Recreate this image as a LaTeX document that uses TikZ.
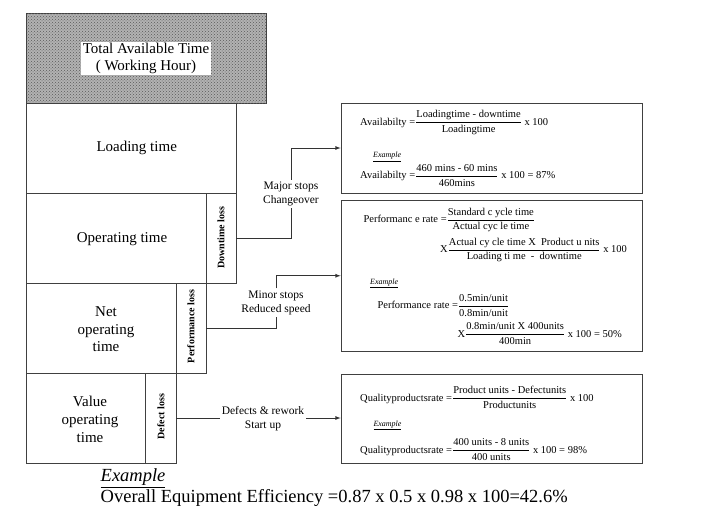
\documentclass[tikz,border=0pt]{standalone}
\usepackage{amsmath}
\usepackage{fontspec}
\setmainfont{Liberation Serif}
\usetikzlibrary{positioning, patterns}
\tikzset{
    timebox/.style={
        draw=black!75, line width=0.8pt,
        inner sep=0pt,
        minimum height=90pt
    },
    losscol/.style={
        draw=black!75, line width=0.8pt,
        inner sep=0pt,
        minimum width=30pt, minimum height=90pt
    },
    losstext/.style = {rotate=90, inner sep=0pt, font=\fontsize{10}{12}\selectfont\bfseries},
    boxtext/.style = {align=center, inner sep=0pt, font=\fontsize{15}{17.7}\selectfont},
    formbox/.style = {draw=black!75, line width=0.8pt, minimum width=301pt, inner sep=0pt},
    formula/.style = {anchor=west, inner sep=0pt, font=\fontsize{10.5}{12}\selectfont},
    smallex/.style = {anchor=west, inner sep=0pt, font=\fontsize{8}{9}\selectfont\itshape},
    cause/.style = {align=center, inner sep=2pt, font=\fontsize{11.5}{14}\selectfont},
    link/.style = {draw=black!80, line width=0.8pt},
    line/.style = {-latex, draw=black!80, line width=0.8pt}
}
\newcommand{\ofrac}[2]{$\dfrac{\text{#1}}{\text{#2}}$}

\begin{document}
\begin{tikzpicture}[x=1pt, y=-1pt]

    \useasboundingbox (0,0) rectangle (715,507);

    % Total available time
    \node[timebox,
        minimum width=240.7pt,
        fill=black!30,
        postaction={pattern=crosshatch dots, pattern color=black!65}
    ] (total) at (146.35,58) {};
    \node[boxtext, fill=white, inner sep=1pt, minimum width=130pt] (totaltxt) at (146,58.5) {Total Available Time\\( Working Hour)};

    % Time blocks
    \node[timebox, minimum width=210pt] (loading) at (131,148) {};
    \node[boxtext] (loadingtxt) at (136.7,148.3) {Loading time};

    \node[timebox, minimum width=180pt] (operating) at (116,238) {};
    \node[boxtext] (operatingtxt) at (122,239) {Operating time};
    \node[losscol] (downtime) at (221,238) {};
    \node[losstext] at (downtime.center) {Downtime loss};

    \node[timebox, minimum width=150pt] (netop) at (101,328) {};
    \node[boxtext] (netoptxt) at (106,329.2) {Net\\operating\\time};
    \node[losscol] (perf) at (191,328) {};
    \node[losstext] at (191,326.3) {Performance loss};

    \node[timebox, minimum width=119.7pt] (valueop) at (85.85,418) {};
    \node[boxtext] (valueoptxt) at (90,419.5) {Value\\operating\\time};
    \node[losscol, minimum width=30.3pt] (defect) at (160.85,418) {};
    \node[losstext] at (161,416.7) {Defect loss};

    % Formula boxes
    \node[formbox, minimum height=90pt] (avail) at (491.5,148) {};
    \node[formula] (avail1) at (360,122.7) {Availabilty =\ofrac{Loadingtime - downtime}{Loadingtime} x 100};
    \node[smallex] (availex) at (373,156.7) {\underline{Example}};
    \node[formula] (avail2) at (360,175.5) {Availabilty =\ofrac{460 mins - 60 mins}{460mins} x 100 = 87\%};

    \node[formbox, minimum height=150.5pt] (perfbox) at (491.5,275.75) {};
    \node[formula] (perf1) at (363.3,220) {Performanc e rate =\ofrac{Standard c ycle time}{Actual cyc le time}};
    \node[formula] (perf2) at (440,250) {X\ofrac{Actual cy cle time X \ Product u nits}{Loading ti me \ - \ downtime} x 100};
    \node[smallex] (perfex) at (370,283.3) {\underline{Example}};
    \node[formula] (perf3) at (377.3,305.5) {Performance rate =\ofrac{0.5min/unit}{0.8min/unit}};
    \node[formula] (perf4) at (457.3,333.7) {X\ofrac{0.8min/unit X 400units}{400min} x 100 = 50\%};

    \node[formbox, minimum height=89.5pt] (quality) at (491.5,418.75) {};
    \node[formula] (qual1) at (360,397.7) {Qualityproductsrate =\ofrac{Product units - Defectunits}{Productunits} x 100};
    \node[smallex] (qualex) at (373.3,425) {\underline{Example}};
    \node[formula] (qual2) at (360,450) {Qualityproductsrate =\ofrac{400 units - 8 units}{400 units} x 100 = 98\%};

    % Causes
    \node[cause] (major) at (291,194) {Major stops\\Changeover};
    \node[cause] (minor) at (276,302.7) {Minor stops\\Reduced speed};
    \node[cause] (defects) at (263,418.5) {Defects \&\ rework\\Start up};

    % Lines
    \draw[link] (downtime.east) -| (major.south);
    \draw[line] (major.north) |- (avail.west);
    \draw[link] (perf.east) -| (minor.south);
    \draw[line] (minor.north) |- (perfbox.west);
    \draw[link] (defect.east) -- (defect.east -| defects.west);
    \draw[line] (defects.east |- defect.east) -- (defect.east -| quality.west);

    % Overall example
    \node[anchor=base west, inner sep=0pt, font=\fontsize{18.5}{20}\selectfont\itshape] (example) at (100.5,481) {\underline{Example}};
    \node[anchor=base west, inner sep=0pt, font=\fontsize{18.5}{20}\selectfont] (oee) at (100.5,502.7) {Overall Equipment Efficiency =0.87 x 0.5 x 0.98 x 100=42.6\%};

\end{tikzpicture}
\end{document}
